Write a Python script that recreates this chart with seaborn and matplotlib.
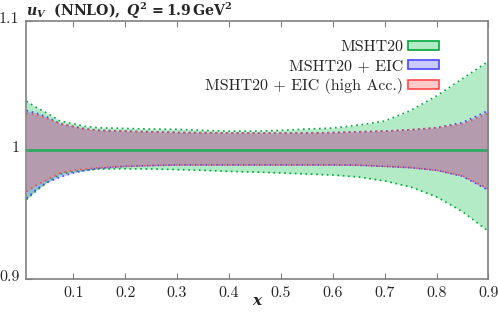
import numpy as np
import pandas as pd
import matplotlib
matplotlib.use('Agg')
import matplotlib.pyplot as plt
import matplotlib.patches as mpatches
import matplotlib.transforms as mtransforms
import seaborn as sns

# band edges (ratio to central MSHT20)
x = [0.01, 0.03, 0.05, 0.075, 0.1, 0.125, 0.15, 0.2, 0.25, 0.3, 0.35,
     0.4, 0.45, 0.5, 0.55, 0.6, 0.65, 0.7, 0.75, 0.8, 0.85, 0.9]
msht_up = [1.0381, 1.033, 1.0288, 1.0227, 1.0206, 1.0185, 1.0175, 1.017, 1.0165, 1.0163, 1.0155,
           1.0149, 1.0149, 1.0155, 1.0165, 1.0173, 1.0196, 1.0227, 1.0309, 1.0422, 1.0556, 1.069]
msht_lo = [0.9619, 0.9691, 0.9753, 0.9815, 0.9835, 0.9846, 0.9856, 0.9858, 0.9856, 0.9851, 0.9846,
           0.9837, 0.9832, 0.9825, 0.9817, 0.9809, 0.9794, 0.9763, 0.9717, 0.964, 0.9526, 0.9372]
eic_up = [1.0309, 1.0288, 1.0258, 1.0206, 1.0185, 1.0165, 1.0155, 1.0149, 1.0144, 1.0139, 1.0137,
          1.0134, 1.0134, 1.0134, 1.0134, 1.0137, 1.0144, 1.0149, 1.016, 1.0175, 1.0216, 1.0309]
eic_lo = [0.9629, 0.9701, 0.9753, 0.9794, 0.9825, 0.9846, 0.9861, 0.9876, 0.9882, 0.9887, 0.9887,
          0.9887, 0.9887, 0.9887, 0.9887, 0.9887, 0.9885, 0.9876, 0.9866, 0.9846, 0.9799, 0.9691]
hacc_up = [1.0288, 1.0278, 1.0247, 1.0206, 1.0185, 1.0165, 1.0155, 1.0149, 1.0144, 1.0139, 1.0137,
           1.0134, 1.0134, 1.0134, 1.0134, 1.0137, 1.0144, 1.0149, 1.016, 1.0175, 1.0206, 1.0288]
hacc_lo = [0.9681, 0.9732, 0.9773, 0.9825, 0.9846, 0.9856, 0.9866, 0.9876, 0.9882, 0.9887, 0.9887,
           0.9887, 0.9887, 0.9887, 0.9887, 0.9887, 0.9885, 0.9876, 0.9866, 0.9846, 0.9804, 0.9701]
central = [1.0] * len(x)

labels = ['MSHT20', 'MSHT20 + EIC', 'MSHT20 + EIC (high Acc.)']
fills = ['#00c040', '#5050ff', '#ff5050']
edges = ['#00a838', '#4848ff', '#ff4848']

df = pd.DataFrame({'x': x, 'central': central})

sns.set_theme(style='ticks')
plt.rcParams['font.family'] = ['cmr10', 'DejaVu Serif']
plt.rcParams['mathtext.fontset'] = 'dejavuserif'
plt.rcParams['axes.formatter.use_mathtext'] = True

fig = plt.figure(figsize=(4.98, 3.12), dpi=100)
ax = fig.add_axes([0.0532, 0.1042, 0.9277, 0.8276])

bands = [(msht_lo, msht_up), (eic_lo, eic_up), (hacc_lo, hacc_up)]
for (lo, up), fc, ec in zip(bands, fills, edges):
    ax.fill_between(x, lo, up, color=fc, alpha=0.3, lw=0)
    ax.plot(x, up, color=ec, lw=1.2, ls=(0, (1, 2.2)))
    ax.plot(x, lo, color=ec, lw=1.2, ls=(0, (1, 2.2)))

sns.lineplot(data=df, x='x', y='central', color='#30a860', lw=2, ax=ax)

ax.set_xlim(0.01, 0.9)
ax.set_ylim(0.9, 1.1)
ax.set_xticks([0.1, 0.2, 0.3, 0.4, 0.5, 0.6, 0.7, 0.8, 0.9])
ax.set_xticklabels(['0.1', '0.2', '0.3', '0.4', '0.5', '0.6', '0.7', '0.8', '0.9'])
ax.set_yticks([0.9, 1.0, 1.1])
ax.set_yticklabels(['0.9', '1', '1.1'])
ax.tick_params(direction='in', top=True, right=False, labelsize=11.5,
               length=4, width=0.8, color='#808080', pad=5)
# gnuplot-style y labels sit a little above their ticks
shift = mtransforms.ScaledTranslation(0, 2.5 / 72, fig.dpi_scale_trans)
for lab in ax.get_yticklabels():
    lab.set_transform(lab.get_transform() + shift)
for s in ax.spines.values():
    s.set_color('#808080')
    s.set_linewidth(1.2)
ax.set_xlabel(r'$\mathbfit{x}$', fontsize=11, labelpad=-4)
ax.set_ylabel('')
ax.annotate(r'$\mathbfit{u_V}\ \ \mathbf{(NNLO),}\ \mathbfit{Q}^\mathbf{2}\mathbf{\,=1.9\,GeV^2}$',
            xy=(0.0, 1.02), xycoords='axes fraction', ha='left', va='baseline',
            fontsize=10.2)

handles = [mpatches.Patch(facecolor=matplotlib.colors.to_rgba(fc, 0.3), edgecolor=ec, lw=1.2)
           for fc, ec in zip(fills, edges)]
ax.legend(handles, labels, loc='upper right', bbox_to_anchor=(0.907, 0.95), frameon=False,
          markerfirst=False, fontsize=11.5, handlelength=1.95, handleheight=0.5,
          labelspacing=0.32, borderaxespad=0, handletextpad=0.3)

fig.savefig('out.png', dpi=100)
